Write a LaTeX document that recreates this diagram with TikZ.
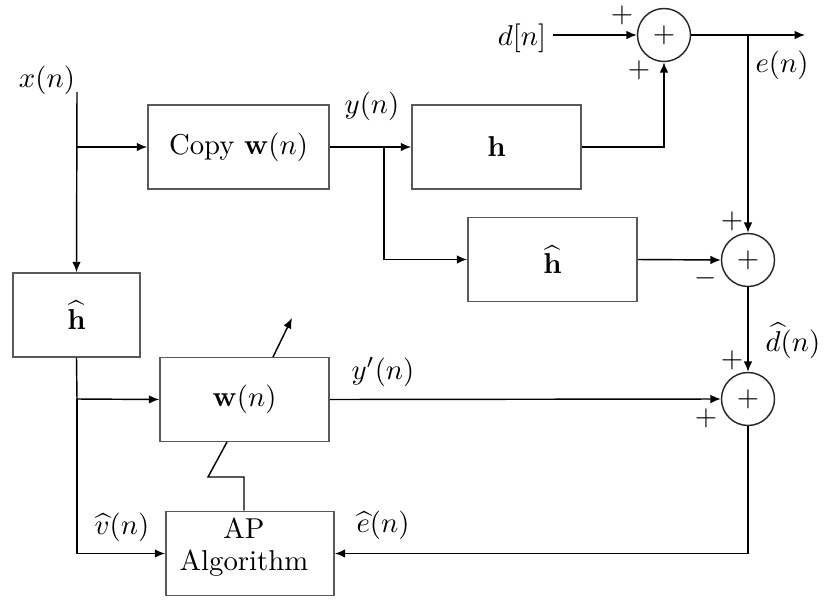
\documentclass[tikz,border=0pt]{standalone}
\usetikzlibrary{arrows.meta}
\begin{document}
\begin{tikzpicture}[x=0.348pt,y=-0.348pt,
  box/.style={draw=black!65,line width=0.6pt,rectangle,inner sep=0pt,minimum height={84*0.348pt}},
  wbox/.style={box,minimum width={169*0.348pt}},
  sumnode/.style={draw=black!85,line width=0.5pt,circle,inner sep=0pt,minimum size={53*0.348pt}},
  conn/.style={line width=0.5pt},
  arr/.style={conn,-{Latex[length=3.6pt,width=3pt]}},
  lbl/.style={inner sep=0pt}]
\useasboundingbox (0,0) rectangle (827,599);
% boxes
\node[box,minimum width={181*0.348pt}] (copy) at (238.5,147) {Copy $\mathbf{w}(n)$};
\node[wbox] (h) at (496.5,147) {$\mathbf{h}$};
\node[wbox] (hh) at (552.5,259.5) {$\widehat{\mathbf{h}}$};
\node[box,minimum width={127*0.348pt}] (hl) at (76.5,315) {$\widehat{\mathbf{h}}$};
\node[wbox] (w) at (244.5,399.5) {$\mathbf{w}(n)$};
\node[box,minimum width={168*0.348pt}] (ap) at (250,553.5) {};
\node[lbl,align=center] (aptext) at (244,547) {AP\\[-1pt]Algorithm};
% sums
\node[sumnode] (s1) at (664,35) {$+$};
\node[sumnode] (s2) at (748,260) {$+$};
\node[sumnode] (s3) at (748,399) {$+$};
% labels
\node[lbl] (xl) at (47,80) {$x(n)$};
\node[lbl] (yl) at (372,106) {$y(n)$};
\node[lbl] (dl) at (522,38) {$d[n]$};
\node[lbl] (el) at (782,65) {$e(n)$};
\node[lbl] (dhl) at (793,341) {$\widehat{d}(n)$};
\node[lbl] (ypl) at (383,372) {$y'(n)$};
\node[lbl] (ehl) at (383,525) {$\widehat{e}(n)$};
\node[lbl] (vhl) at (122,527) {$\widehat{v}(n)$};
\node[lbl] (p1) at (622,15) {$+$};
\node[lbl] (p2) at (639,70) {$+$};
\node[lbl] (p3) at (732,221) {$+$};
\node[lbl] (m1) at (706,278) {$-$};
\node[lbl] (p4) at (732,360) {$+$};
\node[lbl] (p5) at (706,418) {$+$};
% coordinates
\coordinate (xtop) at (77,92);
\coordinate (xb) at (77,147);
\coordinate (yb) at (384,147);
\coordinate (eb) at (748,35);
\coordinate (eout) at (805,35);
\coordinate (dstart) at (553,35);
\coordinate (vb1) at (77,399);
\coordinate (z1) at (227,442);
\coordinate (z2) at (208,477);
\coordinate (z3) at (244,477);
\coordinate (wa1) at (273,357);
\coordinate (wa2) at (292,318);
% connectors
\draw[arr] (xtop) -- (hl.north);
\draw[arr] (xb) -- (copy.west);
\draw[arr] (copy.east) -- (h.west);
\draw[arr] (yb) |- (hh.west);
\draw[arr] (h.east) -| (s1.south);
\draw[arr] (dstart) -- (s1.west);
\draw[arr] (s1.east) -- (eout);
\draw[arr] (eb) -- (s2.north);
\draw[arr] (hh.east) -- (s2.west);
\draw[arr] (s2.south) -- (s3.north);
\draw[arr] (w.east) -- (s3.west);
\draw[arr] (s3.south) |- (ap.east);
\draw[conn] (hl.south) -- (vb1);
\draw[arr] (vb1) -- (w.west);
\draw[arr] (vb1) |- (ap.west);
\draw[arr] (wa1) -- (wa2);
\draw[conn] (z1) -- (z2) -- (z3) -- (z3 |- ap.north);
\end{tikzpicture}
\end{document}
